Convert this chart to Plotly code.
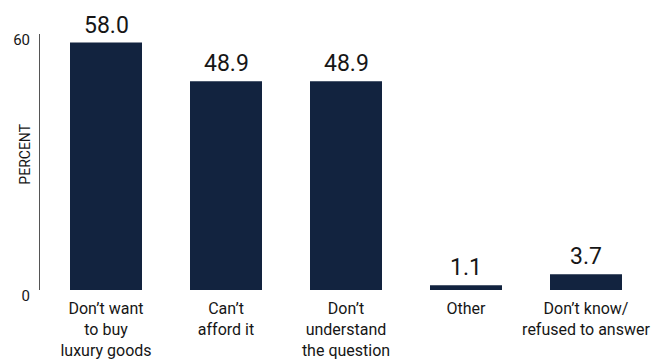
import plotly.graph_objects as go

# Reasons given for not buying luxury goods (percent of respondents)
categories = [
    "Don\u2019t want<br>to buy<br>luxury goods",
    "Can\u2019t<br>afford it",
    "Don\u2019t<br>understand<br>the question",
    "Other",
    "Don\u2019t know/<br>refused to answer",
]
values = [58.0, 48.9, 48.9, 1.1, 3.7]
value_labels = ["58.0", "48.9", "48.9", "1.1", "3.7"]
y_ticks = [0, 60]

NAVY = "#12233F"
TEXT = "#161616"
FONT = "Roboto, DejaVu Sans Condensed, sans-serif"

fig = go.Figure(
    go.Bar(
        x=list(range(len(categories))),
        y=values,
        marker=dict(color=NAVY, line=dict(width=0)),
        width=0.6,
        hoverinfo="skip",
    )
)

# value labels above each bar
for i, (v, t) in enumerate(zip(values, value_labels)):
    fig.add_annotation(
        x=i, y=v, text=t, showarrow=False,
        yanchor="bottom", yshift=2,
        font=dict(family=FONT, size=23, color=TEXT),
    )

# vertical axis title
fig.add_annotation(
    xref="paper", yref="paper", x=-0.024, y=0.53,
    text="PERCENT", textangle=-90, showarrow=False,
    xanchor="center", yanchor="middle",
    font=dict(family=FONT, size=14, color=TEXT),
)

fig.update_layout(
    width=655, height=360,
    margin=dict(l=40, r=3, t=34, b=70),
    paper_bgcolor="white", plot_bgcolor="white",
    showlegend=False,
    bargap=0.4,
    xaxis=dict(
        range=[-0.55, 4.55],
        tickmode="array",
        tickvals=list(range(len(categories))),
        ticktext=categories,
        showgrid=False, zeroline=False, showline=False,
        ticks="",
        automargin=False,
        ticklabelstandoff=7,
        tickfont=dict(family=FONT, size=16, color=TEXT),
    ),
    yaxis=dict(
        range=[0, 60],
        tickvals=y_ticks,
        ticktext=[str(t) for t in y_ticks],
        showgrid=False, zeroline=False,
        showline=True, linecolor="#555555", linewidth=1,
        ticks="",
        automargin=False,
        ticklabelstandoff=6,
        ticklabelshift=6,
        tickfont=dict(family=FONT, size=15, color=TEXT),
    ),
)

fig.write_html("out.html")
